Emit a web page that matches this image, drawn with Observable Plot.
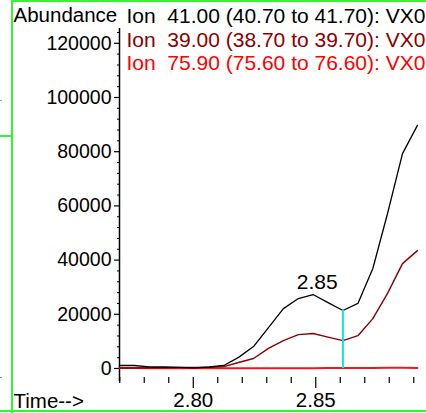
<!DOCTYPE html>
<html>
<head>
<meta charset="utf-8">
<script src="https://cdn.jsdelivr.net/npm/d3@7"></script>
<script src="https://cdn.jsdelivr.net/npm/@observablehq/plot@0.6"></script>
<style>
  html, body { margin: 0; padding: 0; background: #fff; }
  #wrap { position: relative; width: 426px; height: 413px; overflow: hidden; }
  #wrap svg { position: absolute; left: 0; top: 0; }
  #wrap svg text { white-space: pre; }
  .g { position: absolute; background: #33f533; }
  .d { position: absolute; background: #999; }
</style>
</head>
<body>
<div id="wrap"></div>
<script>
// Retention time (min)
const times = [2.7699, 2.7760, 2.7821, 2.7881, 2.7942, 2.8003, 2.8064, 2.8125, 2.8185, 2.8246,
               2.8307, 2.8368, 2.8429, 2.8489, 2.8550, 2.8611, 2.8672, 2.8733, 2.8793, 2.8854, 2.8915];
// Abundance per ion
const ion41  = [1100, 1100, 600, 550, 400, 200, 550, 1100, 4100, 8100,
                15100, 22100, 25800, 27300, 24300, 21400, 24000, 36900, 57200, 79300, 89700];
const ion39  = [200, 200, 300, 300, 350, 350, 400, 700, 2200, 3700,
                7400, 10300, 12500, 12900, 11600, 10300, 12100, 18400, 27700, 38700, 43500];
const ion759 = [150, 150, 120, 120, 100, 100, 100, 100, 120, 120,
                120, 120, 120, 120, 150, 150, 200, 200, 250, 250, 200];

const legendLabels = [
  "Ion  41.00 (40.70 to 41.70): VX0",
  "Ion  39.00 (38.70 to 39.70): VX0",
  "Ion  75.90 (75.60 to 76.60): VX0"
];
const yTicks = [0, 20000, 40000, 60000, 80000, 100000, 120000];
const yMinorTicks = [4000, 8000, 12000, 16000, 24000, 28000, 32000, 36000, 44000, 48000, 52000, 56000,
                     64000, 68000, 72000, 76000, 84000, 88000, 92000, 96000, 104000, 108000, 112000, 116000, 124000];
const xTicks = [2.80, 2.85];
const xMinorTicks = [2.77, 2.78, 2.79, 2.81, 2.82, 2.83, 2.84, 2.86, 2.87, 2.88, 2.89];
const markerIndex = 15;           // cyan marker scan
const peakLabel = [{time: 2.8506, value: 29500, text: "2.85"}];

const xDomain = [2.7699, 2.8952];
const yDomain = [-3321, 125460];
const yAxisBottom = -4800;

const rows = (vals) => times.map((t, i) => ({t, v: vals[i]}));

const chart = Plot.plot({
  width: 426,
  height: 413,
  marginLeft: 119,
  marginRight: 0,
  marginTop: 28,
  marginBottom: 36,
  style: {fontFamily: "Liberation Sans, Arial, sans-serif", background: "transparent", color: "#000"},
  x: {domain: xDomain},
  y: {domain: yDomain},
  marks: [
    Plot.axisY({ticks: yTicks, tickSize: 5, tickPadding: 3, fontSize: 19.5, label: null,
                tickFormat: d3.format("d"), strokeWidth: 1.2}),
    Plot.axisY({ticks: yMinorTicks, tickSize: 2, text: null, label: null}),
    Plot.axisX({ticks: xTicks, tickSize: 11, tickPadding: 4, fontSize: 20.5, label: null,
                tickFormat: d3.format(".2f"), strokeWidth: 1.2}),
    Plot.axisX({ticks: xMinorTicks, tickSize: 6, text: null, label: null, strokeWidth: 1.2}),
    Plot.ruleX([xDomain[0]], {y1: yDomain[1], y2: yAxisBottom, stroke: "#000", strokeWidth: 1.5}),
    Plot.line(rows(ion759), {x: "t", y: "v", stroke: "#f01818", strokeWidth: 2}),
    Plot.line(rows(ion39), {x: "t", y: "v", stroke: "#8b0000", strokeWidth: 1.4}),
    Plot.line(rows(ion41), {x: "t", y: "v", stroke: "#000", strokeWidth: 1.3}),
    Plot.ruleX([times[markerIndex]], {y1: 0, y2: ion41[markerIndex], stroke: "#10e4f0", strokeWidth: 2}),
    Plot.text(peakLabel, {x: "time", y: "value", text: "text", fontSize: 21, lineAnchor: "bottom", fill: "#000"}),
    Plot.text(["Abundance"], {frameAnchor: "top-left", dx: -106, dy: -6.5, textAnchor: "start",
                              lineAnchor: "bottom", fontSize: 20.5, fill: "#000"}),
    Plot.text(["Time-->"], {frameAnchor: "bottom-left", dx: -106, dy: 30, textAnchor: "start",
                            lineAnchor: "bottom", fontSize: 20.5, fill: "#000"}),
    Plot.text([legendLabels[0]], {frameAnchor: "top-left", dx: 7, dy: -6, textAnchor: "start",
                                  lineAnchor: "bottom", fontSize: 21, fill: "#000"}),
    Plot.text([legendLabels[1]], {frameAnchor: "top-left", dx: 7, dy: 18, textAnchor: "start",
                                  lineAnchor: "bottom", fontSize: 21, fill: "#8b0000"}),
    Plot.text([legendLabels[2]], {frameAnchor: "top-left", dx: 7, dy: 41.5, textAnchor: "start",
                                  lineAnchor: "bottom", fontSize: 21, fill: "#ff0000"})
  ]
});

const wrap = document.getElementById("wrap");
wrap.appendChild(chart);
// green selection frame
const frameParts = [
  {left: 10.5, top: 0, width: 2.5, height: 413},
  {left: 11, top: 0, width: 415, height: 2},
  {left: 0, top: 410, width: 426, height: 2},
  {left: 0, top: 135, width: 11, height: 2}
];
for (const p of frameParts) {
  const el = document.createElement("div");
  el.className = "g";
  Object.assign(el.style, {left: p.left + "px", top: p.top + "px", width: p.width + "px", height: p.height + "px"});
  wrap.appendChild(el);
}
for (const y of [100, 377]) {
  const el = document.createElement("div");
  el.className = "d";
  Object.assign(el.style, {left: "0px", top: y + "px", width: "2px", height: "1px"});
  wrap.appendChild(el);
}
</script>
</body>
</html>
